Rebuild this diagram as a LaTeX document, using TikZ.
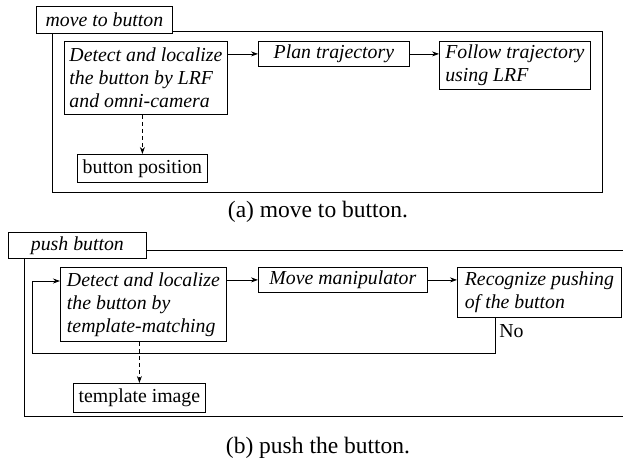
\documentclass[tikz,border=0pt]{standalone}
\usepackage{fontspec}
\setmainfont{Liberation Serif}
\usetikzlibrary{positioning, arrows.meta, calc}
\newcommand{\figfont}{\fontsize{19.8}{23}\selectfont}
\newcommand{\capfont}{\fontsize{23.5}{28}\selectfont}

\begin{document}
\begin{tikzpicture}[x=1pt, y=-1pt, font=\figfont, line width=0.8pt,
  blk/.style={draw, font=\figfont\itshape, align=left, anchor=north west, inner sep=0pt},
  tag/.style={draw, fill=white, font=\figfont\itshape, anchor=north west, inner sep=0pt},
  res/.style={draw, anchor=north west, inner sep=0pt},
  captxt/.style={font=\capfont, inner sep=0pt},
  arr/.style={-{Stealth[length=7pt, width=5pt]}}]
  \useasboundingbox (0,0) rectangle (623,464);
  % (a) move to button
  \draw (52,31) rectangle (602,192);
  \node (mtb) [tag, minimum width=136pt, minimum height=27pt] at (36,6) {move to button};
  \node (det1) [blk, minimum width=163pt, minimum height=73pt] at (64,41) {Detect and localize\\the button by LRF\\and omni-camera};
  \node (plan) [blk, minimum width=151pt, minimum height=25pt] at (258,41) {Plan trajectory};
  \node (follow) [blk, minimum width=151pt, minimum height=48pt] at (439,41) {Follow trajectory\\using LRF};
  \node (pos) [res, minimum width=130pt, minimum height=28pt] at (77,154) {button position};
  \draw[arr] (det1.east |- plan.west) -- (plan.west);
  \draw[arr] (plan.east) -- (plan.east -| follow.west);
  \draw[arr, dash pattern=on 4pt off 3pt] (det1.south -| pos.north) -- (pos.north);
  \node (capa) [captxt] at (318,212) {(a) move to button.};
  % (b) push the button
  \draw (623,250) -- (24,250) -- (24,416) -- (623,416);
  \node (pb) [tag, minimum width=138pt, minimum height=26pt] at (8,232) {push button};
  \node (det2) [blk, minimum width=166pt, minimum height=74pt] at (60,267) {Detect and localize\\the button by\\template-matching};
  \node (move) [blk, minimum width=169pt, minimum height=25pt] at (258,267) {Move manipulator};
  \node (recog) [blk, minimum width=164pt, minimum height=50pt] at (457,267) {Recognize pushing\\of the button};
  \node (tmpl) [res, minimum width=132pt, minimum height=29pt] at (73,383) {template image};
  \coordinate (back) at (32,353);
  \draw[arr] (det2.east |- move.west) -- (move.west);
  \draw[arr] (move.east) -- (move.east -| recog.west);
  \draw[arr, dash pattern=on 4pt off 3pt] (det2.south -| tmpl.north) -- (tmpl.north);
  % retry loop
  \draw[arr] ($(recog.south west)+(38,0)$) |- (back) |- ($(det2.north west)+(0,14)$);
  \node (no) [anchor=north west, inner sep=0pt] at ($(recog.south west)+(42,6)$) {No};
  \node (capb) [captxt] at (318,448) {(b) push the button.};
\end{tikzpicture}
\end{document}
